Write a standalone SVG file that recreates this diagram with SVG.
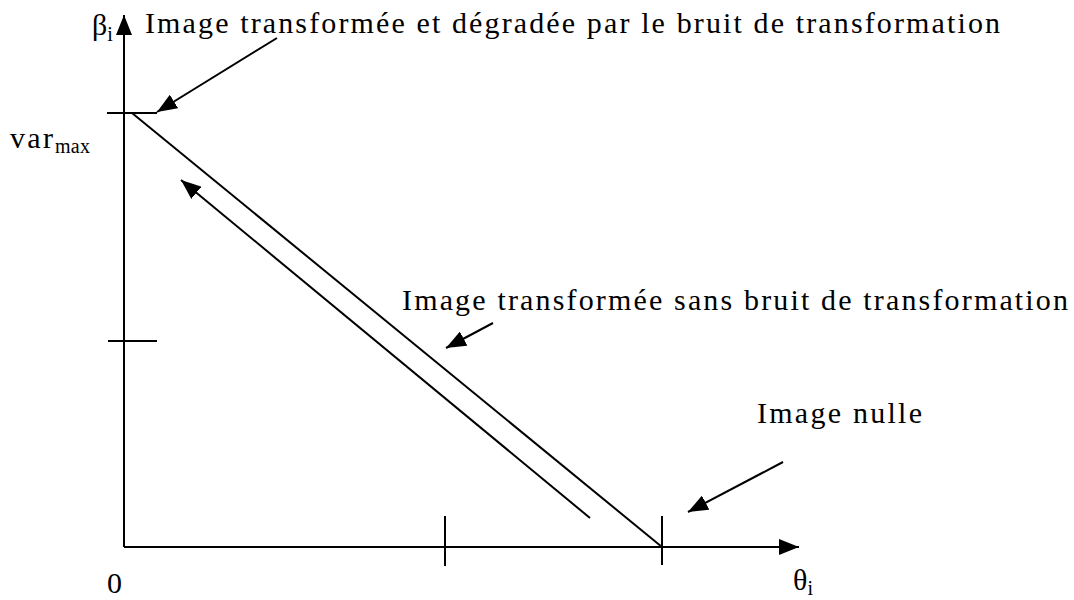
<svg xmlns="http://www.w3.org/2000/svg" width="1074" height="600" viewBox="0 0 1074 600">
<style>
.ln{stroke:#000;stroke-width:2;fill:none}
.t{font-family:"Liberation Serif","Times New Roman",serif;font-size:30px;fill:#000}
.s{font-size:20px}
</style>
<defs>
<marker id="ah" markerUnits="userSpaceOnUse" markerWidth="20" markerHeight="16" refX="20" refY="8" orient="auto">
<path d="M0,0 L20,8 L0,16 z" fill="#000"/>
</marker>
</defs>
<rect width="1074" height="600" fill="#fff"/>
<g id="axes">
<line class="ln" x1="124" y1="547" x2="124" y2="15" marker-end="url(#ah)"/>
<line class="ln" x1="124" y1="547" x2="799" y2="547" marker-end="url(#ah)"/>
<line class="ln" x1="107" y1="113" x2="157" y2="113"/>
<line class="ln" x1="108" y1="341" x2="157" y2="341"/>
<line class="ln" x1="445" y1="516" x2="445" y2="566"/>
<line class="ln" x1="662" y1="516" x2="662" y2="565"/>
</g>
<g id="curve">
<line class="ln" x1="132" y1="113" x2="662" y2="547"/>
</g>
<g id="labels">
<text class="t" x="92" y="35">β<tspan class="s" dy="6">i</tspan></text>
<text class="t" x="10" y="148" textLength="43" lengthAdjust="spacing">var</text>
<text class="t s" x="55" y="153" textLength="35" lengthAdjust="spacing">max</text>
<text class="t" x="107" y="593">0</text>
<text class="t" x="793" y="590">θ<tspan class="s" dy="5">i</tspan></text>
</g>
<g id="n1">
<text class="t" x="145" y="33" textLength="855" lengthAdjust="spacing">Image transformée et dégradée par le bruit de transformation</text>
</g>
<g id="n2">
<text class="t" x="402" y="310" textLength="666" lengthAdjust="spacing">Image transformée sans bruit de transformation</text>
</g>
<g id="n3">
<text class="t" x="757" y="423" textLength="165" lengthAdjust="spacing">Image nulle</text>
</g>
<g id="connectors">
<line class="ln" x1="277" y1="38" x2="157" y2="112" marker-end="url(#ah)"/>
<line class="ln" x1="590" y1="518" x2="181" y2="180" marker-end="url(#ah)"/>
<line class="ln" x1="493" y1="323" x2="446" y2="348" marker-end="url(#ah)"/>
<line class="ln" x1="783" y1="462" x2="688" y2="512" marker-end="url(#ah)"/>
</g>
</svg>
